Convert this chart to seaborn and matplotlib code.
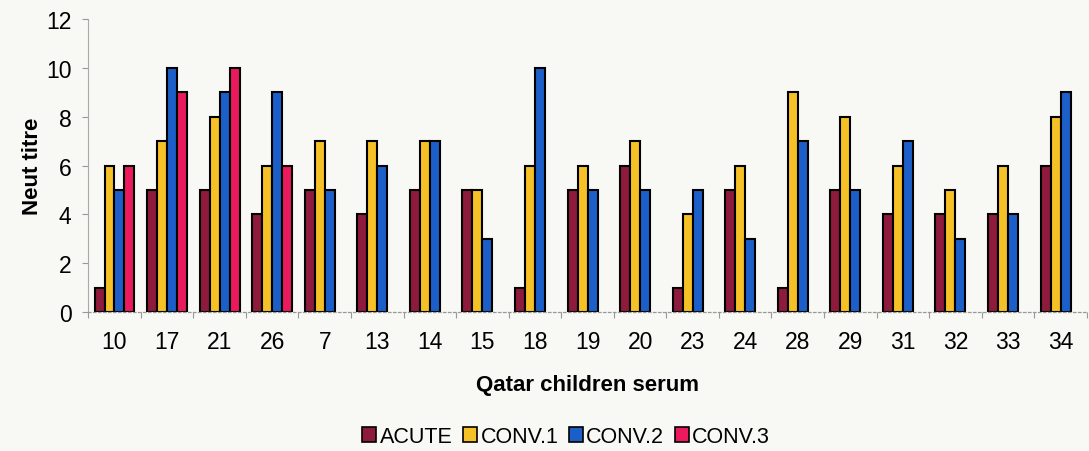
import numpy as np
import pandas as pd
import matplotlib
matplotlib.use("Agg")
import matplotlib.pyplot as plt
import seaborn as sns
from matplotlib.patches import Patch

# Neutralising antibody titres per child, by serum sample
children = ["10", "17", "21", "26", "7", "13", "14", "15", "18", "19",
            "20", "23", "24", "28", "29", "31", "32", "33", "34"]
acute = [1, 5, 5, 4, 5, 4, 5, 5, 1, 5, 6, 1, 5, 1, 5, 4, 4, 4, 6]
conv1 = [6, 7, 8, 6, 7, 7, 7, 5, 6, 6, 7, 4, 6, 9, 8, 6, 5, 6, 8]
conv2 = [5, 10, 9, 9, 5, 6, 7, 3, 10, 5, 5, 5, 3, 7, 5, 7, 3, 4, 9]
conv3 = [6, 9, 10, 6, np.nan, np.nan, np.nan, np.nan, np.nan, np.nan,
         np.nan, np.nan, np.nan, np.nan, np.nan, np.nan, np.nan, np.nan, np.nan]
series = ["ACUTE", "CONV.1", "CONV.2", "CONV.3"]
colors = ["#8e1a3c", "#f6c127", "#1d5fc9", "#ea1a5c"]

df = pd.DataFrame({"child": children, "ACUTE": acute, "CONV.1": conv1,
                   "CONV.2": conv2, "CONV.3": conv3})
long = df.melt(id_vars="child", var_name="sample", value_name="titre").dropna()

sns.set_theme(style="white")
plt.rcParams["font.family"] = ["Liberation Sans", "DejaVu Sans"]
plt.rcParams["text.color"] = "black"
plt.rcParams["axes.labelcolor"] = "black"

bg = "#f8f8f4"
fig = plt.figure(figsize=(10.89, 4.52), dpi=100, facecolor=bg)
ax = fig.add_axes([0.081, 0.3075, 0.917, 0.648])
ax.set_facecolor(bg)

sns.barplot(data=long, x="child", y="titre", hue="sample", order=children,
            hue_order=series, palette=colors, width=0.76, errorbar=None,
            edgecolor="black", linewidth=1.5, saturation=1, ax=ax)

ax.set_ylim(0, 12)
ax.set_xlim(-0.5, len(children) - 0.5)
ax.set_yticks(range(0, 13, 2))
ax.tick_params(axis="y", labelsize=16.5, length=4, color="#999999", width=0.8,
               left=True, pad=8, labelcolor="black")
ax.tick_params(axis="x", which="major", labelsize=16.5, length=0, pad=13,
               labelcolor="black")
ax.set_xticks(np.arange(-0.5, len(children), 1.0), minor=True)
ax.tick_params(axis="x", which="minor", length=4, color="#999999",
               width=0.8, bottom=True)

for s in ["top", "right"]:
    ax.spines[s].set_visible(False)
ax.spines["left"].set_color("#aaaaaa")
ax.spines["left"].set_linewidth(0.8)
ax.spines["bottom"].set_color("#999999")
ax.spines["bottom"].set_linewidth(0.9)
ax.spines["bottom"].set_linestyle((0, (2, 2)))

ax.set_ylabel("Neut titre", fontsize=16, fontweight="bold", labelpad=2,
              color="black")
ax.set_xlabel("Qatar children serum", fontsize=16, fontweight="bold",
              labelpad=15, color="black")

ax.get_legend().remove()
handles = [Patch(facecolor=c, edgecolor="black", linewidth=1.2) for c in colors]
fig.legend(handles, series, loc="center", bbox_to_anchor=(0.52, 0.033),
           ncol=4, frameon=False, fontsize=15.5, handlelength=0.65,
           handleheight=0.7, handletextpad=0.15, columnspacing=0.5,
           labelcolor="black")

fig.savefig("out.png", dpi=100, facecolor=bg)
